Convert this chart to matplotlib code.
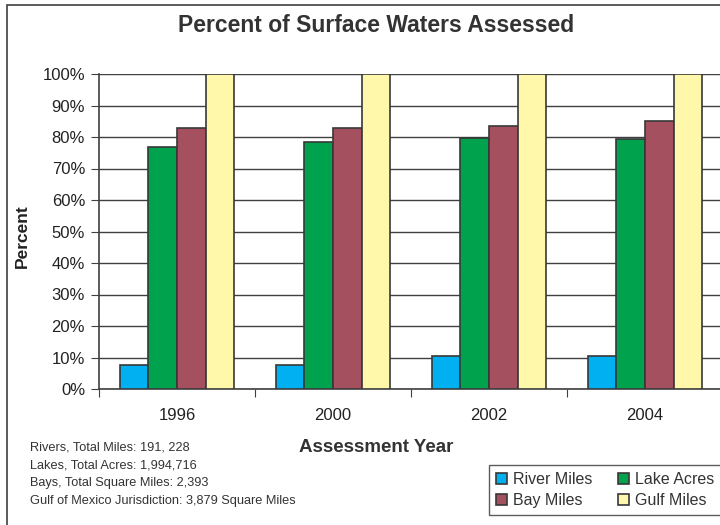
import matplotlib.pyplot as plt
import numpy as np
from matplotlib.patches import Rectangle

plt.rcParams['font.family'] = ['Liberation Sans', 'DejaVu Sans']

# 데이터
years = ['1996', '2000', '2002', '2004']
series_names = ['River Miles', 'Lake Acres', 'Bay Miles', 'Gulf Miles']
river_miles = [7.6, 7.6, 10.5, 10.5]
lake_acres = [76.9, 78.4, 79.6, 79.4]
bay_miles = [83.0, 83.0, 83.5, 85.1]
gulf_miles = [100, 100, 100, 100]
colors = ['#00B0F0', '#00A24E', '#A4505E', '#FFF7AA']
notes = ['Rivers, Total Miles: 191, 228',
         'Lakes, Total Acres: 1,994,716',
         'Bays, Total Square Miles: 2,393',
         'Gulf of Mexico Jurisdiction: 3,879 Square Miles']

W, H = 720, 525
fig = plt.figure(figsize=(7.2, 5.25), dpi=100)

# 바깥 테두리
fig.patches.append(Rectangle((7 / W, -0.1), 1.2, 1 - 5 / H + 0.1, transform=fig.transFigure,
                             fill=False, edgecolor='#404040', linewidth=1.2))

ax = fig.add_axes([99 / W, 1 - 389 / H, 624 / W, 315 / H])

values = [river_miles, lake_acres, bay_miles, gulf_miles]
x = np.arange(len(years))
bw = 0.184
for i, (name, vals) in enumerate(zip(series_names, values)):
    ax.bar(x + (i - 1.5) * bw, vals, width=bw, color=colors[i], edgecolor='#383838',
           linewidth=1.2, label=name, zorder=3)

ax.set_xlim(-0.5, len(years) - 0.5)
ax.set_ylim(0, 100)
ax.set_yticks(range(0, 101, 10))
ax.set_yticklabels([f'{v}%' for v in range(0, 101, 10)], fontsize=12, color='#222222')
ax.yaxis.grid(True, color='#404040', linewidth=1, zorder=0)

# x축: 구간 경계에 눈금, 가운데에 라벨
ax.set_xticks(np.arange(-0.5, len(years) + 0.5, 1))
ax.set_xticklabels([])
ax.set_xticks(x, minor=True)
ax.set_xticklabels(years, minor=True, fontsize=12, color='#222222')
ax.tick_params(axis='x', which='minor', length=0, pad=14)
ax.tick_params(axis='x', which='major', length=6, color='#404040')
ax.tick_params(axis='y', length=6, color='#404040', pad=4)

for s in ['top', 'right']:
    ax.spines[s].set_visible(False)
for s in ['left', 'bottom']:
    ax.spines[s].set_color('#404040')
    ax.spines[s].set_linewidth(1.2)

fig.text(376 / W, 1 - 25 / H, 'Percent of Surface Waters Assessed', ha='center', va='center',
         fontsize=16.5, fontweight='bold', color='#333333')
fig.text(22 / W, 1 - 236 / H, 'Percent', ha='center', va='center', rotation=90,
         fontsize=12.5, fontweight='bold', color='#222222')
fig.text(376 / W, 1 - 447 / H, 'Assessment Year', ha='center', va='center',
         fontsize=13.5, fontweight='bold', color='#333333')

for i, line in enumerate(notes):
    fig.text(30 / W, 1 - (447 + 18 * i) / H, line, ha='left', va='center',
             fontsize=9.2, color='#333333')

# 범례 (행 순서: River, Lake / Bay, Gulf)
handles, labels = ax.get_legend_handles_labels()
order = [0, 2, 1, 3]
leg = fig.legend([handles[k] for k in order], [labels[k] for k in order], ncol=2,
                 loc='upper left', bbox_to_anchor=(489 / W, 1 - 465 / H), borderaxespad=0,
                 fontsize=11.5, frameon=True, fancybox=False, edgecolor='#333333',
                 handlelength=0.7, handleheight=0.7, handletextpad=0.35,
                 columnspacing=1.6, labelspacing=0.35, borderpad=0.45)
leg.get_frame().set_linewidth(1)
for t in leg.get_texts():
    t.set_color('#333333')

fig.savefig('out.png', dpi=100)
